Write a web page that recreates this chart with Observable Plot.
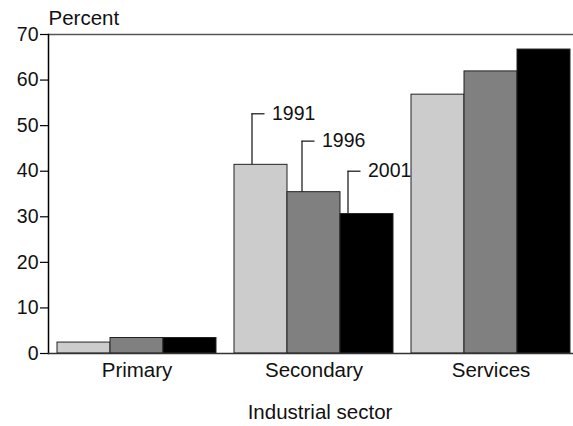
<!DOCTYPE html>
<html>
<head>
<meta charset="utf-8">
<script src="https://cdn.jsdelivr.net/npm/d3@7"></script>
<script src="https://cdn.jsdelivr.net/npm/@observablehq/plot@0.6"></script>
<style>
  html, body { margin: 0; padding: 0; background: #fff; }
</style>
</head>
<body>
<div id="chart"></div>
<script>
// ---- data ----
const sectors = ["Primary", "Secondary", "Services"];
const years = ["1991", "1996", "2001"];
const values1991 = [2.4, 41.4, 56.8];
const values1996 = [3.4, 35.4, 61.9];
const values2001 = [3.4, 30.6, 66.7];
const yTicks = [0, 10, 20, 30, 40, 50, 60, 70];
const yLabel = "Percent";
const xLabel = "Industrial sector";
const labelledSector = "Secondary";
const labelLevels = [52.6, 46.6, 40.0];   // heights (percent) of the year call-outs
const yearColors = ["#cccccc", "#808080", "#000000"];

// ---- tables built from the arrays ----
const series = [values1991, values1996, values2001];
const data = sectors.flatMap((s, i) =>
  years.map((y, j) => ({sector: s, year: y, value: series[j][i]}))
);
const si = sectors.indexOf(labelledSector);
const callouts = years.map((y, j) => ({
  sector: labelledSector, year: y, value: series[j][si], level: labelLevels[j]
}));

// call-out styling (pixels)
const leaderShift = [-9, -12, -19];
const leaderLen = 13;
const band = 53;

const font = "'Liberation Sans', Arial, Helvetica, sans-serif";
const ink = "#111";

const calloutMarks = callouts.flatMap((c, j) => [
  Plot.ruleX([c], {fx: "sector", x: "year", y1: "value", y2: "level",
    dx: leaderShift[j], stroke: "#222", strokeWidth: 1.3}),
  Plot.ruleY([c], {fx: "sector", x1: "year", x2: "year", y: "level",
    insetLeft: band / 2 + leaderShift[j], insetRight: band / 2 - leaderShift[j] - leaderLen,
    stroke: "#222", strokeWidth: 1.3}),
  Plot.text([c], {fx: "sector", x: "year", y: "level", text: "year",
    dx: leaderShift[j] + leaderLen + 7, textAnchor: "start", lineAnchor: "middle",
    fontSize: 19.5, fill: ink})
]);

const chart = Plot.plot({
  width: 573,
  height: 426,
  marginTop: 34,
  marginBottom: 73,
  marginLeft: 57,
  marginRight: 3,
  style: {fontFamily: font, fontSize: "19.5px", color: ink, background: "#fff"},
  fx: {domain: sectors, paddingInner: 0.1017, paddingOuter: 0, label: null},
  x: {domain: years, padding: 0, axis: null},
  y: {domain: [0, 70]},
  color: {domain: years, range: yearColors},
  marks: [
    Plot.barY(data, {fx: "sector", x: "year", y: "value", fill: "year",
      stroke: "#222", strokeWidth: 1}),
    Plot.frame({facet: "super", anchor: "top", insetLeft: -9, insetRight: -3,
      stroke: "#555", strokeWidth: 1.6}),
    Plot.frame({facet: "super", anchor: "left", insetLeft: -9,
      stroke: "#000", strokeWidth: 1.5}),
    Plot.frame({facet: "super", anchor: "bottom", insetLeft: -9, insetRight: -3,
      stroke: "#333", strokeWidth: 1.5}),
    Plot.axisY({ticks: yTicks, tickSize: 8, tickPadding: 2, dx: -9,
      fontSize: 19.5, label: null, stroke: "#000", strokeWidth: 1.2, fill: ink}),
    Plot.axisFx({anchor: "bottom", tickSize: 0, tickPadding: 9, fontSize: 20.5,
      label: null, fill: ink}),
    Plot.text([yLabel], {facet: "super", frameAnchor: "top-left", text: d => d,
      dx: -9, dy: -16, textAnchor: "start", lineAnchor: "middle", fontSize: 20.5, fill: ink}),
    Plot.text([xLabel], {facet: "super", frameAnchor: "bottom", text: d => d,
      dx: 6, dy: 59, lineAnchor: "middle", fontSize: 20.5, fill: ink}),
    ...calloutMarks
  ]
});

document.getElementById("chart").appendChild(chart);
</script>
</body>
</html>
